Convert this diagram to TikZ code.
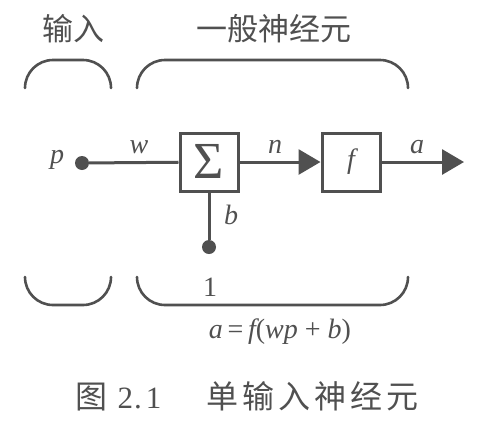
\documentclass[tikz,border=0pt]{standalone}
\usepackage{fontspec}
\setmainfont{Liberation Serif}
\newfontfamily\cjk{Noto Sans CJK SC}
\usetikzlibrary{arrows.meta}
\definecolor{ink}{HTML}{505050}
\begin{document}
\begin{tikzpicture}[x=1pt,y=-1pt,
  line/.style={draw=ink,line width=3pt},
  blk/.style={draw=ink,line width=3pt,minimum width=58pt,minimum height=58pt,inner sep=0pt,fill=white,text=ink},
  dotn/.style={circle,fill=ink,minimum size=14pt,inner sep=0pt},
  lab/.style={text=ink,font=\fontsize{28}{32}\selectfont\itshape},
  ttl/.style={text=ink,font=\cjk\fontsize{31}{35}\selectfont},
  brk/.style={draw=ink,line width=2.6pt,line cap=round,rounded corners=28pt},
  tip/.style={-{Triangle[length=22pt,width=25pt]}}]
\useasboundingbox (0,0) rectangle (487,426);
% titles
\node[ttl] (tin) at (73,29) {输入};
\node[ttl] (tneu) at (274,29) {一般神经元};
% brackets top
\draw[brk] (25,88) -- (25,60) -- (111,60) -- (111,88);
\draw[brk] (137,88) -- (137,60) -- (408,60) -- (408,88);
% brackets bottom
\draw[brk] (25,277) -- (25,305) -- (111,305) -- (111,277);
\draw[brk] (137,277) -- (137,305) -- (408,305) -- (408,277);
% nodes
\node[dotn] (pdot) at (82,163) {};
\node[lab] (plab) at (57,160) {p};
\node[blk] (sum) at (209,162) {\fontsize{52}{56}\selectfont\raisebox{1pt}{Σ}};
\node[blk] (fbox) at (351,162) {\fontsize{28}{32}\selectfont\itshape f};
\node[dotn] (bdot) at (209,247) {};
\coordinate (out) at (464,162);
% connectors
\draw[line] (pdot) -- (sum);
\draw[line,tip] (sum) -- (fbox);
\draw[line,tip] (fbox) -- (out);
\draw[line] (sum) -- (bdot);
% labels
\node[lab] (wlab) at (139,147) {w};
\node[lab] (nlab) at (275,147) {n};
\node[lab] (alab) at (417,147) {a};
\node[lab] (blab) at (231,215) {b};
\node[lab,font=\fontsize{28}{32}\selectfont] (one) at (210,287) {1};
\node[lab] (eq) at (280,332) {a\,{\upshape=}\,f{\upshape(}wp {\upshape+} b{\upshape)}};
\node[text=ink,font=\cjk\fontsize{32}{36}\selectfont] (cap) at (247,396)
  {图\hspace{10pt}{\rmfamily\fontsize{31}{35}\selectfont 2\hspace{1pt}.\hspace{4pt}1}\hspace{45pt}单\hspace{4pt}输\hspace{4pt}入\hspace{4pt}神\hspace{4pt}经\hspace{4pt}元};
\end{tikzpicture}
\end{document}
